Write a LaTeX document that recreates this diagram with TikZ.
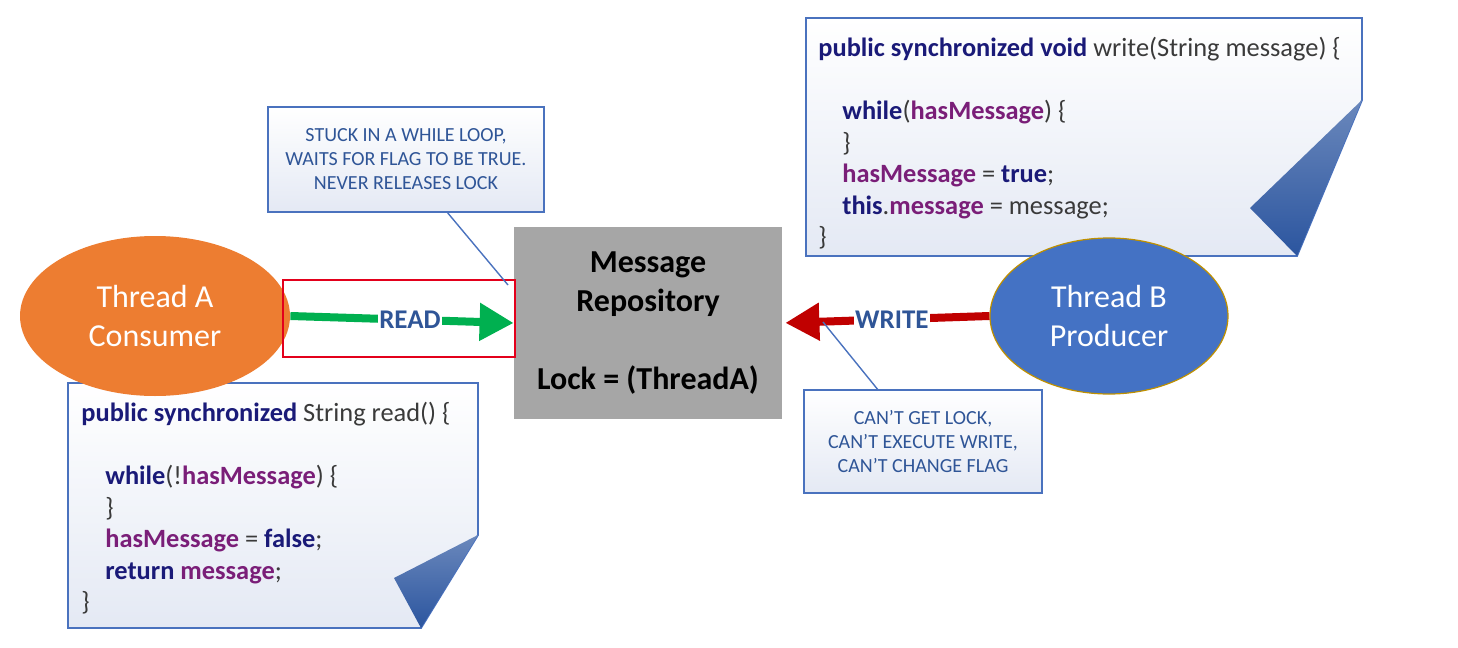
\documentclass[tikz,border=0pt]{standalone}
\usepackage{fontspec}
\setmainfont{Carlito}
\usetikzlibrary{positioning,arrows.meta,calc,shapes.geometric}
\definecolor{orangeA}{HTML}{ED7D31}
\definecolor{blueB}{HTML}{4472C4}
\definecolor{goldB}{HTML}{BF9000}
\definecolor{repogray}{HTML}{A6A6A6}
\definecolor{noteblue}{HTML}{2F5597}
\definecolor{boxblue}{HTML}{4A72BE}
\definecolor{notefill}{HTML}{E4E9F4}
\definecolor{foldblue}{HTML}{2B559F}
\definecolor{kwnavy}{HTML}{1A1A78}
\definecolor{varpurple}{HTML}{7A1E78}
\definecolor{plaingray}{HTML}{3A3A3A}
\definecolor{readgreen}{HTML}{00B050}
\definecolor{writered}{HTML}{C00000}
\definecolor{zonered}{HTML}{E3001B}
\newcommand{\ckw}[1]{\textbf{\color{kwnavy}#1}}
\newcommand{\cvar}[1]{\textbf{\color{varpurple}#1}}
\tikzset{
  thread/.style={ellipse, inner sep=0pt, text=white, align=center,
    font=\fontsize{16}{19.5}\selectfont},
  note/.style={draw=boxblue, line width=0.8pt, top color=white, bottom color=notefill,
    text=noteblue, align=center, font=\fontsize{10}{12}\selectfont},
  page/.style={draw=boxblue, line width=0.9pt, top color=white, bottom color=notefill},
  fold/.style={top color=foldblue!70!white, bottom color=foldblue},
  code/.style={inner sep=0pt, align=left, text=plaingray,
    font=\fontsize{13.2}{15.75}\selectfont},
  flow/.style={line width=4pt, -{Triangle[length=17pt,width=18pt]}},
  flowlabel/.style={fill=white, inner sep=0.5pt, text=noteblue,
    font=\bfseries\fontsize{13.5}{15}\selectfont},
  pointer/.style={draw=boxblue, line width=0.7pt}
}

\begin{document}
\begin{tikzpicture}[x=0.5pt, y=-0.5pt]
  \useasboundingbox (0,0) rectangle (1458,648);

  % code pages with folded corner
  \path[page] (806,18) -- (1362,18) -- (1362,100) -- (1297,256) -- (806,256) -- cycle;
  \shade[fold] (1362,100) -- (1297,256) -- (1250,208) -- cycle;
  \node[code, anchor=north west] (writecode) at (818,37)
    {\ckw{public synchronized void} write(String message) \{\\
     \mbox{}\\
     \hspace*{12pt}\ckw{while}(\cvar{hasMessage}) \{\\
     \hspace*{12pt}\}\\
     \hspace*{12pt}\cvar{hasMessage} = \ckw{true};\\
     \hspace*{12pt}\ckw{this}.\cvar{message} = message;\\
     \}};

  \path[page] (68,383) -- (478,383) -- (478,535) -- (421,628) -- (68,628) -- cycle;
  \shade[fold] (478,535) -- (421,628) -- (394,578) -- cycle;
  \node[code, anchor=north west] (readcode) at (81,402)
    {\ckw{public synchronized} String read() \{\\
     \mbox{}\\
     \hspace*{12pt}\ckw{while}(!\cvar{hasMessage}) \{\\
     \hspace*{12pt}\}\\
     \hspace*{12pt}\cvar{hasMessage} = \ckw{false};\\
     \hspace*{12pt}\ckw{return} \cvar{message};\\
     \}};

  % threads and repository
  \node[thread, fill=orangeA, minimum width=135pt, minimum height=80pt]
    (threadA) at (155,316) {Thread A\\Consumer};
  \node[thread, fill=blueB, draw=goldB, line width=0.6pt, minimum width=119pt,
    minimum height=78pt] (threadB) at (1109,316) {Thread B\\Producer};
  \node[fill=repogray, minimum width=134pt, minimum height=96pt, align=center,
    font=\bfseries\fontsize{16}{19.5}\selectfont] (repo) at (648,323)
    {Message\\Repository\\[19.5pt]Lock = (ThreadA)};
  \node[draw=zonered, line width=1.3pt, minimum width=116pt, minimum height=38.5pt]
    (readzone) at (399,318.5) {};

  \draw[flow, readgreen] (threadA.east) -- node[flowlabel, xshift=4pt] {READ} (repo.west);
  \draw[flow, writered, shorten >=1.5pt] (threadB.west) -- node[flowlabel, xshift=3pt] {WRITE} (repo.east);

  % callouts
  \node[note, minimum width=138pt, minimum height=52.5pt] (notestuck) at (406,159.5)
    {STUCK IN A WHILE LOOP,\\WAITS FOR FLAG TO BE TRUE.\\NEVER RELEASES LOCK};
  \node[note, minimum width=119pt, minimum height=51.5pt] (notelock) at (923,441.5)
    {CAN’T GET LOCK,\\CAN’T EXECUTE WRITE,\\CAN’T CHANGE FLAG};
  \coordinate (stucktip) at (508,285);
  \coordinate (locktip) at (823,322);
  \draw[pointer] ($(notestuck.south west)!0.65!(notestuck.south east)$) -- (stucktip);
  \draw[pointer] ($(notelock.north west)!0.31!(notelock.north east)$) -- (locktip);
\end{tikzpicture}
\end{document}
